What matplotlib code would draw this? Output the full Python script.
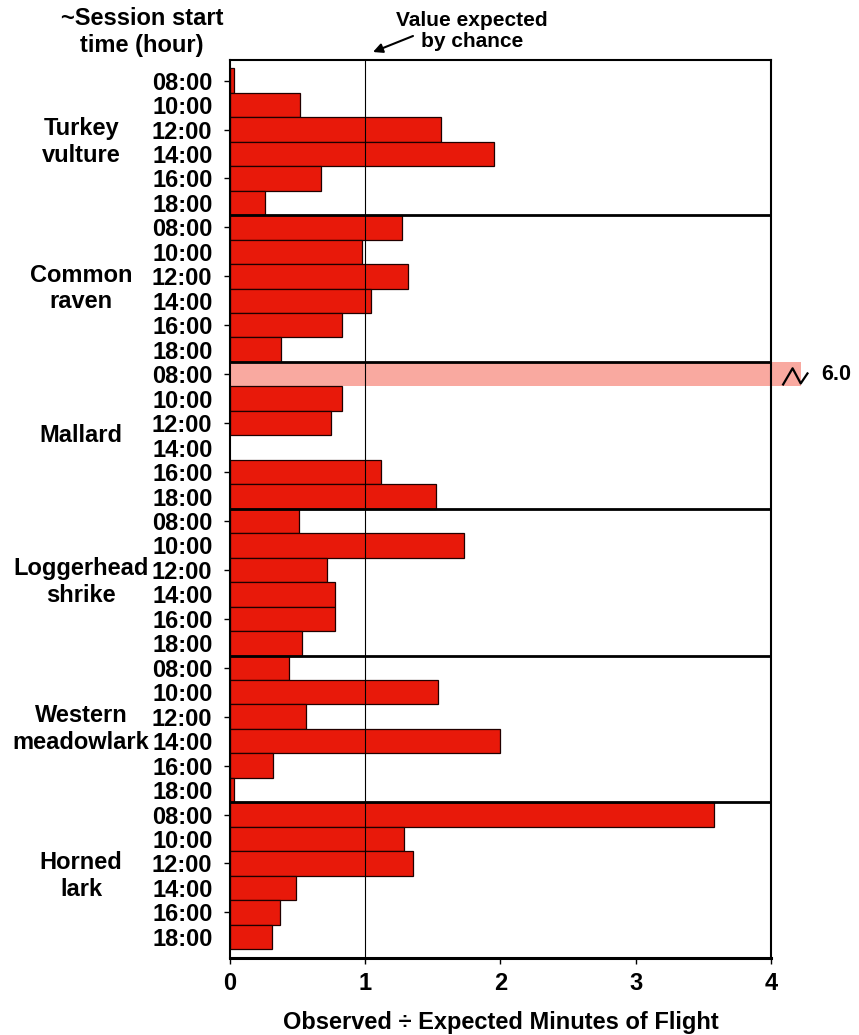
import numpy as np
import matplotlib.pyplot as plt
from matplotlib.transforms import blended_transform_factory

# --- data ---
species = ["Turkey\nvulture", "Common\nraven", "Mallard",
           "Loggerhead\nshrike", "Western\nmeadowlark", "Horned\nlark"]
hours = ["08:00", "10:00", "12:00", "14:00", "16:00", "18:00"]

turkey_vulture = [0.03, 0.52, 1.56, 1.95, 0.67, 0.26]
common_raven = [1.27, 0.98, 1.32, 1.04, 0.83, 0.38]
mallard = [6.0, 0.83, 0.75, 0.0, 1.12, 1.52]
loggerhead_shrike = [0.51, 1.73, 0.72, 0.78, 0.78, 0.53]
western_meadowlark = [0.44, 1.54, 0.56, 2.00, 0.32, 0.03]
horned_lark = [3.58, 1.29, 1.35, 0.49, 0.37, 0.31]

chance_level = 1.0
x_ticks = [0, 1, 2, 3, 4]
break_at = 4.22  # off-scale bars are cut here

RED = "#E8190A"
PINK = "#F9A9A0"
EDGE = "#200000"

plt.rcParams.update({
    "font.family": ["Liberation Sans", "DejaVu Sans"],
    "font.weight": "bold",
    "axes.labelweight": "bold",
})

fig = plt.figure(figsize=(8.59, 10.35), dpi=100)
ax = fig.add_axes([0.2677, 0.0747, 0.6298, 0.8673])

values = [turkey_vulture, common_raven, mallard,
          loggerhead_shrike, western_meadowlark, horned_lark]
n = len(hours)
x_max = x_ticks[-1]

for g, vals in enumerate(values):
    for i, v in enumerate(vals):
        row = g * n + i
        if v <= 0:
            continue
        if v > x_max:
            ax.barh(row, break_at, height=1.0, color=PINK, edgecolor="none",
                    clip_on=False, zorder=2)
            # break mark and true value
            zx = break_at + np.array([-0.13, -0.06, 0.0, 0.05])
            zy = row + np.array([0.42, -0.24, 0.38, -0.03])
            ax.plot(zx, zy, color="black", lw=1.6, clip_on=False, zorder=4)
            ax.text(break_at + 0.155, row, f"{v:.1f}", ha="left", va="center",
                    fontsize=15.5, clip_on=False)
        else:
            ax.barh(row, v, height=1.0, color=RED, edgecolor=EDGE,
                    linewidth=0.9, zorder=2)

n_rows = len(values) * n
ax.set_xlim(0, x_max)
ax.set_ylim(n_rows - 0.5 + 0.35, -0.5 - 0.34)

# chance line and group separators
ax.axvline(chance_level, color="black", lw=0.8, zorder=3)
for g in range(1, len(values)):
    ax.axhline(g * n - 0.5, color="black", lw=2.0, zorder=3)

for side in ["left", "right", "top"]:
    ax.spines[side].set_linewidth(1.5)
ax.spines["bottom"].set_linewidth(2.2)

rows = np.arange(n_rows)
ax.set_yticks(rows)
ax.set_yticklabels(hours * len(values))
ax.yaxis.remove_overlapping_locs = False
ax.set_yticks(rows[::2], minor=True)
ax.tick_params(axis="y", which="major", length=0, pad=12.6, labelsize=17)
ax.tick_params(axis="y", which="minor", length=4, width=1, direction="out")

ax.set_xticks(x_ticks)
ax.set_xticklabels([str(t) for t in x_ticks])
ax.tick_params(axis="x", length=4, width=1, pad=6, labelsize=17)

ax.set_xlabel("Observed \u00f7 Expected Minutes of Flight", fontsize=17, labelpad=12)

# species names on the left
trans = blended_transform_factory(ax.transAxes, ax.transData)
for g, name in enumerate(species):
    ax.text(-0.275, g * n + 2.5, name, transform=trans, ha="center",
            va="center", fontsize=17, linespacing=1.2)

fig.text(142 / 859, 1 - 32 / 1035, "~Session start\ntime (hour)",
         ha="center", va="center", fontsize=17, linespacing=1.2)

fig.text(472 / 859, 1 - 31 / 1035, "Value expected\nby chance",
         ha="center", va="center", fontsize=15, linespacing=1.15)
ax.annotate("", xy=(373, 1035 - 52), xycoords="figure pixels",
            xytext=(413, 1035 - 36), textcoords="figure pixels",
            arrowprops=dict(arrowstyle="-|>", color="black", lw=1.5,
                            mutation_scale=14, shrinkA=0, shrinkB=0))

fig.savefig("out.png", dpi=100)
